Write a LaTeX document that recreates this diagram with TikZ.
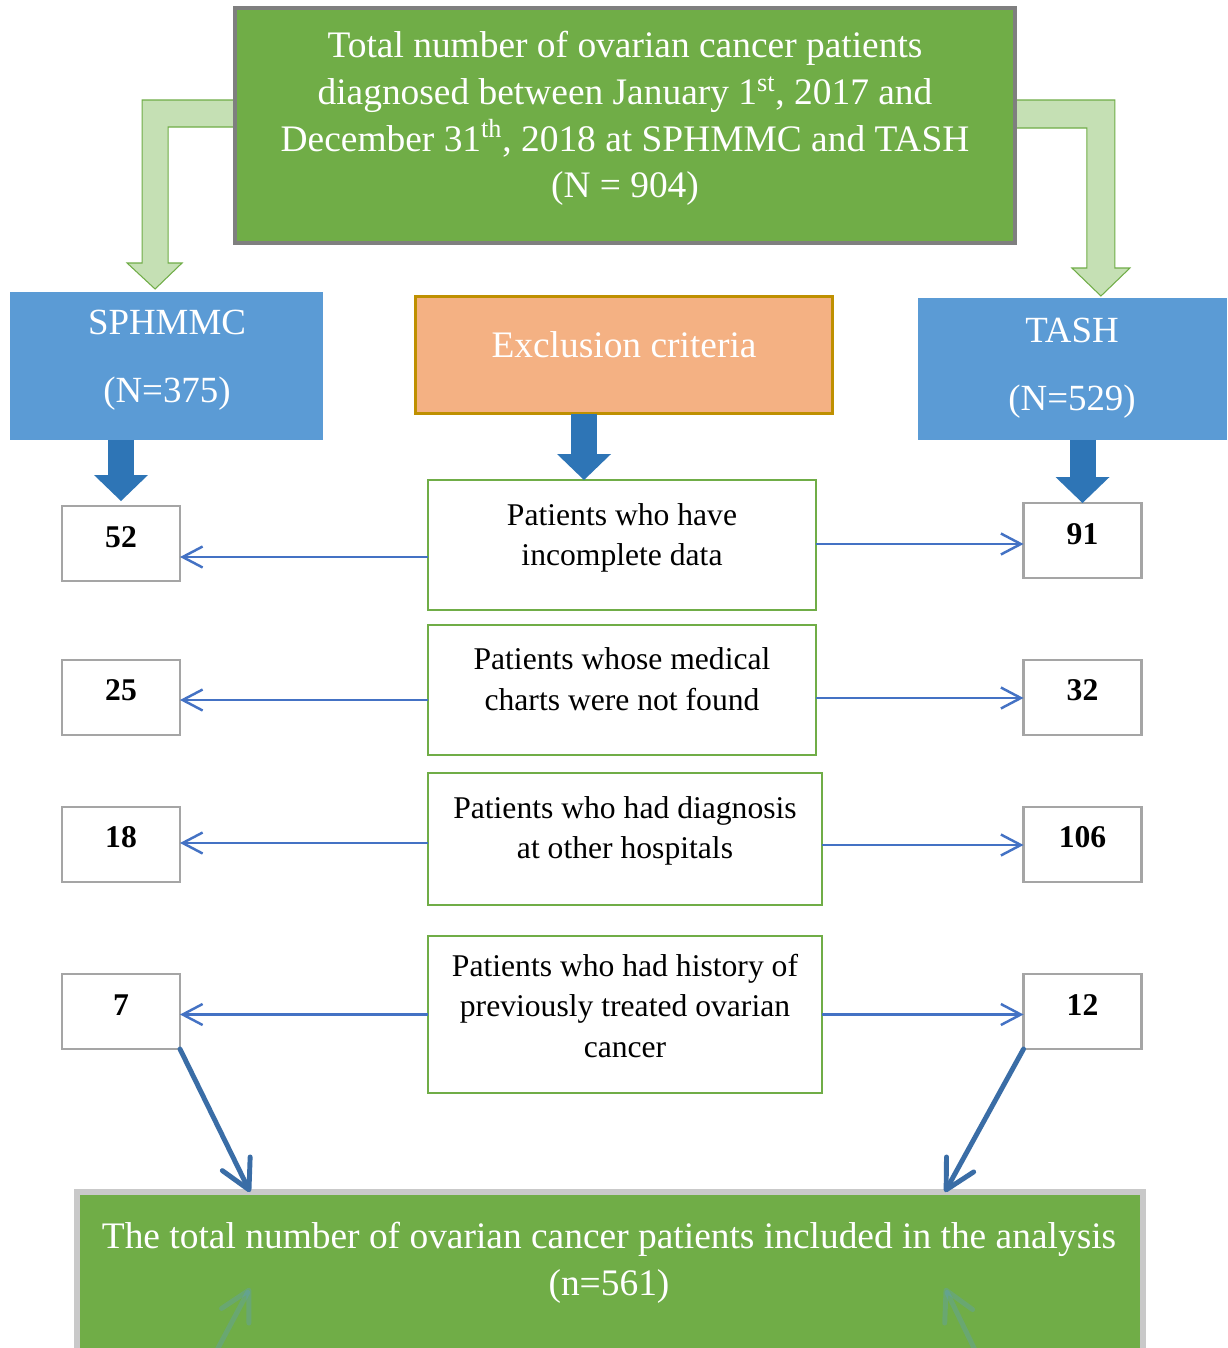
\documentclass[tikz,border=0pt]{standalone}
\usepackage{fontspec}
\setmainfont{Liberation Serif}
\usetikzlibrary{arrows.meta,calc,positioning,backgrounds}

\definecolor{topgreen}{HTML}{70AD47}
\definecolor{palegreen}{HTML}{C5E0B4}
\definecolor{siteblue}{HTML}{5B9BD5}
\definecolor{arrowblue}{HTML}{2E75B6}
\definecolor{lineblue}{HTML}{4472C4}
\definecolor{diagblue}{HTML}{3A6DA6}
\definecolor{exclfill}{HTML}{F4B183}
\definecolor{excldraw}{HTML}{BF9000}
\definecolor{numgray}{HTML}{A5A5A5}
\definecolor{topgray}{HTML}{7F7F7F}
\definecolor{botgray}{HTML}{C9C9C9}

\begin{document}
\begin{tikzpicture}[x=0.02cm, y=-0.02cm,
    box/.style={rectangle, inner sep=0pt, outer sep=0pt},
    bigtxt/.style={text=white, align=center, font=\fontsize{21.3}{26.6}\selectfont},
    sitetxt/.style={text=white, align=center, font=\fontsize{21}{38.7}\selectfont},
    midtxt/.style={align=center, font=\fontsize{18}{23}\selectfont},
    numtxt/.style={font=\fontsize{18}{22}\selectfont\bfseries},
    critbox/.style={box, draw=topgreen, line width=1.2pt, fill=white},
    numbox/.style={box, draw=numgray, line width=1.4pt, fill=white, minimum width=2.36cm, minimum height=1.5cm},
    elbow/.style={fill=palegreen, draw=topgreen, line width=0.6pt, line join=miter},
    blockarr/.style={draw=arrowblue, line width=0.52cm, -{Triangle[width=1.08cm,length=0.52cm,line width=0pt]}},
    thinarr/.style={draw=lineblue, line width=1.4pt, -{Straight Barb[length=0.4cm,width=0.42cm]}},
    diagarr/.style={draw=diagblue, line width=2.8pt, line cap=round, -{Straight Barb[length=0.58cm,width=0.62cm,round]}}
]
\useasboundingbox (0,0) rectangle (1227,1348);
\clip (0,0) rectangle (1227,1348);

% boxes
\node[box, draw=topgray, line width=2.3pt, fill=topgreen, minimum width=15.6cm, minimum height=4.7cm] (top) at (625,125.5) {};
\node[box, fill=siteblue, minimum width=6.26cm, minimum height=2.96cm] (sph) at (166.5,366) {};
\node[box, fill=siteblue, minimum width=6.18cm, minimum height=2.84cm] (tash) at (1072.5,369) {};
\node[box, draw=excldraw, line width=1.7pt, fill=exclfill, minimum width=8.36cm, minimum height=2.36cm] (excl) at (624,355) {};

\node[critbox, minimum width=7.76cm, minimum height=2.6cm] (c1) at (622,545) {};
\node[critbox, minimum width=7.76cm, minimum height=2.6cm] (c2) at (622,690) {};
\node[critbox, minimum width=7.88cm, minimum height=2.64cm] (c3) at (625,839) {};
\node[critbox, minimum width=7.88cm, minimum height=3.14cm] (c4) at (625,1014.5) {};

\node[numbox] (n52) at (121,543.5) {};
\node[numbox] (n25) at (121,697.5) {};
\node[numbox] (n18) at (121,844.5) {};
\node[numbox] (n7) at (121,1011.5) {};
\node[numbox] (n91) at (1082.5,540.5) {};
\node[numbox] (n32) at (1082.5,697.5) {};
\node[numbox] (n106) at (1082.5,844.5) {};
\node[numbox] (n12) at (1082.5,1011.5) {};

\node[box, draw=botgray, line width=3.4pt, fill=topgreen, minimum width=21.32cm, minimum height=4.16cm] (bottom) at (610,1296) {};

% texts
\node[bigtxt] (ttop) at (625,118.5) {Total number of ovarian cancer patients\\
  diagnosed between January 1\textsuperscript{st}, 2017 and\\
  December 31\textsuperscript{th}, 2018 at SPHMMC and TASH\\
  (N = 904)};
\node[sitetxt] (tsph) at (167,360) {SPHMMC\\(N=375)};
\node[sitetxt] (ttash) at (1072,368) {TASH\\(N=529)};
\node[bigtxt] (texcl) at (624,345) {Exclusion criteria};
\node[midtxt] (tc1) at (622,538) {Patients who have\\incomplete data};
\node[midtxt] (tc2) at (622,679) {Patients whose medical\\charts were not found};
\node[midtxt] (tc3) at (625,831) {Patients who had diagnosis\\at other hospitals};
\node[midtxt] (tc4) at (625,1006) {Patients who had history of\\previously treated ovarian\\cancer};
\node[numtxt] (t52) at (121,537) {52};
\node[numtxt] (t25) at (121,690) {25};
\node[numtxt] (t18) at (121,837) {18};
\node[numtxt] (t7) at (121,1005) {7};
\node[numtxt] (t91) at (1082.5,534) {91};
\node[numtxt] (t32) at (1082.5,690) {32};
\node[numtxt] (t106) at (1082.5,837) {106};
\node[numtxt] (t12) at (1082.5,1005) {12};
\node[bigtxt] (tbottom) at (609,1263) {The total number of ovarian cancer patients included in the analysis\\(n=561)};

% hollow elbow arrows from the top box
\begin{scope}[on background layer]
\fill[white] (0,0) rectangle (1227,1348);
\filldraw[elbow] ([yshift=-1.84cm]top.north west) -- ++(-93,0) -- ++(0,163) -- ++(-15,0)
  -- ++(28,26) -- ++(27,-26) -- ++(-14,0) -- ++(0,-136) -- ++(69,0) -- cycle;
\filldraw[elbow] ([yshift=-1.84cm]top.north east) -- ++(100,0) -- ++(0,168) -- ++(15,0)
  -- ++(-29,28) -- ++(-29,-28) -- ++(15,0) -- ++(0,-140) -- ++(-74,0) -- cycle;
\end{scope}

% solid arrows
\coordinate (e1) at ([xshift=-0.76cm]c1.north);
\draw[blockarr] (e1 |- excl.south) -- (e1);
\draw[blockarr, shorten >=0.1cm] (n52.north |- sph.south) -- (n52.north);
\draw[blockarr] (n91.north |- tash.south) -- (n91.north);

% exclusion counts
\draw[thinarr] ([yshift=-0.24cm]c1.west) coordinate (l1) -- (l1 -| n52.east);
\draw[thinarr] ([yshift=-0.2cm]c2.west) coordinate (l2) -- (l2 -| n25.east);
\draw[thinarr] ([yshift=-0.08cm]c3.west) coordinate (l3) -- (l3 -| n18.east);
\draw[thinarr] (c4.west) -- (c4.west -| n7.east);
\draw[thinarr] ([yshift=0.02cm]c1.east) coordinate (r1) -- (r1 -| n91.west);
\draw[thinarr] ([yshift=-0.16cm]c2.east) coordinate (r2) -- (r2 -| n32.west);
\draw[thinarr] ([yshift=-0.12cm]c3.east) coordinate (r3) -- (r3 -| n106.west);
\draw[thinarr] (c4.east) -- (c4.east -| n12.west);

% to the final count
\draw[diagarr] (n7.south east) -- ([xshift=-7.2cm]bottom.north);
\draw[diagarr] (n12.south west) -- ([xshift=6.7cm]bottom.north);
\coordinate (g1) at (217,1350);
\coordinate (g2) at (975,1350);
\draw[diagarr, draw=siteblue, opacity=0.3] (g1) -- ([xshift=-7.2cm,yshift=-1.92cm]bottom.north);
\draw[diagarr, draw=siteblue, opacity=0.3] (g2) -- ([xshift=6.7cm,yshift=-1.92cm]bottom.north);
\end{tikzpicture}
\end{document}
